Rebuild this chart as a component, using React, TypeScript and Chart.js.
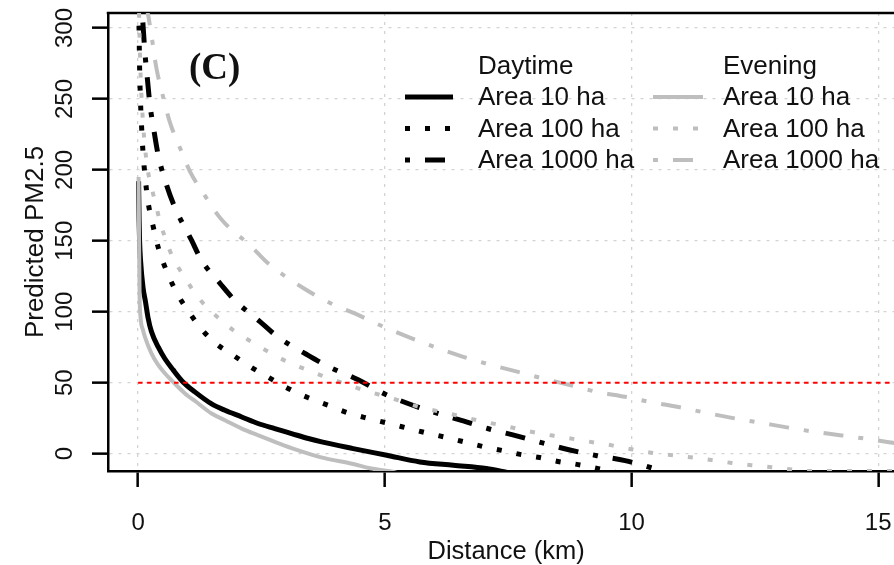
import React, { useEffect, useRef } from "react";
import { Chart, registerables } from "chart.js";

Chart.register(...registerables);

// ---- axis ticks ----
const xTickValues = [0, 5, 10, 15];
const xTickLabels = ["0", "5", "10", "15"];
const yTickValues = [0, 50, 100, 150, 200, 250, 300];
const yTickLabels = ["0", "50", "100", "150", "200", "250", "300"];

const xAxisTitle = "Distance (km)";
const yAxisTitle = "Predicted PM2.5";
const panelLabel = "(C)";
const groupTitles = ["Daytime", "Evening"];
const areaNames = ["Area 10 ha", "Area 100 ha", "Area 1000 ha"];

// ---- Daytime series ----
const dayKm10 = [0.01, 0.02, 0.03, 0.05, 0.1, 0.15, 0.2, 0.27, 0.41, 0.54, 0.71, 0.91, 1.15, 1.49, 1.76, 2.1, 2.43, 2.77, 3.11, 3.45, 3.72, 4.36, 5.04, 5.71, 6.39, 7.06, 7.5];
const dayPm10 = [192, 165, 150, 136, 117, 107, 96, 86, 75, 67, 59, 50.5, 43.5, 35, 30.5, 25.8, 21.2, 17.6, 14.1, 10.6, 8.2, 3.5, -1.2, -5.9, -8.3, -10.6, -13.5];

const dayKm100 = [0.01, 0.02, 0.03, 0.05, 0.07, 0.1, 0.14, 0.19, 0.3, 0.41, 0.61, 0.81, 1.05, 1.29, 1.59, 1.89, 2.26, 2.6, 3.04, 3.45, 3.85, 4.26, 4.66, 5.04, 5.44, 5.85, 6.25, 6.66, 7.03, 7.4, 7.77, 8.14, 8.51, 8.92, 9.33, 9.7];
const dayPm100 = [330, 298, 273, 247, 231, 212, 196, 180, 161, 145, 126, 111.7, 98.8, 87.5, 77.2, 70.2, 61.6, 54.6, 45.9, 39.3, 34.1, 28.6, 24.8, 21.6, 18.1, 14.5, 11.3, 7.8, 4.6, 2.0, -0.8, -2.8, -5.6, -7.8, -10.6, -13.5];

const dayKm1000 = [0.07, 0.1, 0.14, 0.19, 0.24, 0.32, 0.41, 0.58, 0.74, 1.08, 1.29, 1.66, 1.96, 2.47, 2.84, 3.41, 3.85, 4.46, 5.0, 5.47, 6.1, 6.59, 7.1, 7.67, 8.25, 8.75, 9.3, 9.87, 10.4, 10.7];
const dayPm1000 = [318, 302, 282, 263.5, 246, 228, 210, 189, 174, 150.6, 136, 120, 108, 93, 82, 70, 61.5, 52, 42, 35.3, 28, 23, 17.5, 12.5, 7, 2.5, -1.5, -5, -10, -13.5];

// ---- Evening series ----
const eveKm10 = [0.01, 0.02, 0.03, 0.05, 0.1, 0.14, 0.27, 0.41, 0.61, 0.74, 0.95, 1.22, 1.49, 1.76, 2.1, 2.43, 2.77, 3.11, 3.45, 3.78, 4.36, 4.7, 5.1, 5.3];
const evePm10 = [195, 150, 112, 96, 87, 82, 70.6, 62.3, 54, 49.4, 42.4, 35.3, 28.2, 23.5, 17.6, 12.9, 8.2, 3.8, 0, -3.2, -7.4, -10.4, -12.5, -14];

const eveKm100 = [0.015, 0.02, 0.03, 0.05, 0.1, 0.14, 0.19, 0.27, 0.37, 0.44, 0.58, 0.71, 0.95, 1.11, 1.35, 1.66, 1.96, 2.3, 2.67, 3.01, 3.38, 3.72, 4.46, 5.27, 5.64, 6.45, 6.86, 7.27, 7.67, 8.08, 8.48, 8.89, 9.26, 9.63, 10.03, 10.4, 10.85, 11.25, 11.62, 12.03, 12.43, 12.84, 13.25, 13.5, 15.6];
const evePm100 = [325, 310, 292, 267, 233, 216, 201, 188, 174, 164, 149, 137.6, 124, 115.3, 104.7, 94.6, 86.2, 78.8, 71.2, 65, 59.6, 55, 46, 37.6, 33.4, 27, 23.6, 20.6, 17.6, 14.6, 12.2, 9.9, 7.7, 5.6, 2.8, 0.6, -1.3, -2.8, -4.6, -6.6, -8.2, -9.6, -11.3, -12.3, -12.3];

const eveKm1000 = [0.15, 0.17, 0.22, 0.27, 0.37, 0.51, 0.64, 0.88, 1.05, 1.35, 1.69, 2.3, 2.64, 3.38, 3.9, 4.39, 5.0, 5.47, 6.1, 6.59, 7.1, 7.7, 8.25, 8.79, 9.3, 9.87, 10.4, 10.95, 11.5, 12.06, 12.6, 13.18, 13.7, 14.26, 14.8, 15.3, 15.6];
const evePm1000 = [330, 318, 306, 295, 272, 251, 234, 212.9, 199, 182, 165, 145.8, 134, 116, 106, 98.8, 89, 82.3, 74, 68.2, 63, 57.6, 52.5, 48, 43.5, 40, 36.2, 32.8, 28.8, 25, 21.8, 18.3, 15.4, 12.8, 10.2, 7.6, 6];

// ---- threshold line ----
const thresholdKm = [0, 15.6];
const thresholdPm = [50, 50];

const FONT = "'Liberation Sans', Arial, sans-serif";
const BLACK = "#000000";
const GRAY = "#bebebe";
const DOTTED = [5, 15];
const DOTDASH = [5, 15, 20, 15];

function pts(xs: number[], ys: number[]) {
  return xs.map((x, i) => ({ x, y: ys[i] }));
}

const overlayPlugin = {
  id: "rOverlay",
  beforeDatasetsDraw(chart: any) {
    const { ctx, chartArea } = chart;
    ctx.save();
    ctx.strokeStyle = "#000";
    ctx.lineWidth = 2.5;
    ctx.beginPath();
    ctx.moveTo(chartArea.left - 1.25, chartArea.top);
    ctx.lineTo(chartArea.right + 2, chartArea.top);
    ctx.stroke();
    ctx.restore();
  },
  afterDraw(chart: any) {
    const { ctx, chartArea } = chart;
    const xs = chart.scales.x;
    const ys = chart.scales.y;
    ctx.save();
    ctx.fillStyle = "#111";
    ctx.textBaseline = "alphabetic";
    ctx.textAlign = "center";
    // tick labels
    ctx.font = `24px ${FONT}`;
    xTickValues.forEach((v, i) => {
      ctx.fillText(xTickLabels[i], xs.getPixelForValue(v), 530);
    });
    yTickValues.forEach((v, i) => {
      ctx.save();
      ctx.translate(71.5, ys.getPixelForValue(v));
      ctx.rotate(-Math.PI / 2);
      ctx.fillText(yTickLabels[i], 0, 0);
      ctx.restore();
    });
    // axis titles
    ctx.font = `25.5px ${FONT}`;
    ctx.fillText(xAxisTitle, xs.getPixelForValue(7.5) - 2, 559);
    ctx.save();
    ctx.font = `26px ${FONT}`;
    ctx.translate(43, (chartArea.top + chartArea.bottom) / 2);
    ctx.rotate(-Math.PI / 2);
    ctx.fillText(yAxisTitle, 0, 0);
    ctx.restore();
    // panel label
    ctx.textAlign = "left";
    ctx.font = "bold 37px 'Liberation Serif', 'Times New Roman', serif";
    ctx.fillText(panelLabel, 189, 79);
    // legend
    ctx.font = `26px ${FONT}`;
    const colX = [[405, 453, 478], [653, 703, 723]];
    const headerY = 73.5;
    const rowY = [105, 136.5, 168];
    const ds = chart.data.datasets;
    for (let c = 0; c < 2; c++) {
      ctx.fillStyle = "#111";
      ctx.fillText(groupTitles[c], colX[c][2], headerY);
      for (let r = 0; r < 3; r++) {
        const d = ds[c * 3 + r];
        ctx.fillStyle = "#111";
        ctx.fillText(areaNames[r], colX[c][2], rowY[r]);
        ctx.save();
        ctx.strokeStyle = d.borderColor;
        ctx.lineWidth = d.borderWidth;
        ctx.setLineDash(d.borderDash || []);
        ctx.lineCap = "butt";
        ctx.beginPath();
        const ly = rowY[r] - 8;
        ctx.moveTo(colX[c][0], ly);
        ctx.lineTo(colX[c][1], ly);
        ctx.stroke();
        ctx.restore();
      }
    }
    ctx.restore();
  },
};

export default function App() {
  const canvasRef = useRef<HTMLCanvasElement | null>(null);

  useEffect(() => {
    const canvas = canvasRef.current;
    if (!canvas) return;
    const mk = (label: string, xs: number[], ys: number[], color: string, width: number, dash: number[], order: number) => ({
      label,
      data: pts(xs, ys),
      borderColor: color,
      backgroundColor: color,
      borderWidth: width,
      borderDash: dash,
      borderCapStyle: "butt",
      pointRadius: 0,
      fill: false,
      cubicInterpolationMode: "monotone",
      clip: 0,
      order,
    });
    const chart = new Chart(canvas, {
      type: "line",
      data: {
        datasets: [
          mk("Daytime " + areaNames[0], dayKm10, dayPm10, BLACK, 5, [], 6),
          mk("Daytime " + areaNames[1], dayKm100, dayPm100, BLACK, 5, DOTTED, 5),
          mk("Daytime " + areaNames[2], dayKm1000, dayPm1000, BLACK, 5, DOTDASH, 4),
          mk("Evening " + areaNames[0], eveKm10, evePm10, GRAY, 4, [], 3),
          mk("Evening " + areaNames[1], eveKm100, evePm100, GRAY, 4, DOTTED, 2),
          mk("Evening " + areaNames[2], eveKm1000, evePm1000, GRAY, 4, DOTDASH, 1),
          { ...mk("PM2.5 = 50", thresholdKm, thresholdPm, "#ff0000", 2, [4.5, 4.5], 0), cubicInterpolationMode: "default" },
        ] as any,
      },
      options: {
        responsive: false,
        maintainAspectRatio: false,
        animation: false,
        devicePixelRatio: 1,
        layout: { padding: { top: 13, left: 0, right: 0, bottom: 0 } },
        plugins: { legend: { display: false }, tooltip: { enabled: false } },
        elements: { line: { tension: 0 } },
        scales: {
          x: {
            type: "linear",
            min: -0.61,
            max: 15.32,
            afterBuildTicks: (s: any) => {
              s.ticks = xTickValues.map((v) => ({ value: v }));
            },
            afterFit: (s: any) => {
              s.height = 94;
            },
            ticks: { display: false },
            grid: {
              color: "#d3d3d3",
              lineWidth: 1.3,
              drawTicks: true,
              tickLength: 16,
              tickColor: "#000",
              tickWidth: 2.5,
              tickBorderDash: [],
            },
            border: { display: true, color: "#000", width: 2.5, dash: [3, 6] },
          },
          y: {
            type: "linear",
            min: -12.3,
            max: 310.6,
            afterBuildTicks: (s: any) => {
              s.ticks = yTickValues.map((v) => ({ value: v }));
            },
            afterFit: (s: any) => {
              s.width = 108;
            },
            ticks: { display: false },
            grid: {
              color: "#d3d3d3",
              lineWidth: 1.3,
              drawTicks: true,
              tickLength: 16,
              tickColor: "#000",
              tickWidth: 2.5,
              tickBorderDash: [],
            },
            border: { display: true, color: "#000", width: 2.5, dash: [3, 6] },
          },
        },
      } as any,
      plugins: [overlayPlugin as any],
    });
    return () => chart.destroy();
  }, []);

  return (
    <div style={{ position: "fixed", left: 0, top: 0, width: 894, height: 565, background: "#fff" }}>
      <canvas ref={canvasRef} width={894} height={565} style={{ display: "block", width: 894, height: 565 }} />
    </div>
  );
}
